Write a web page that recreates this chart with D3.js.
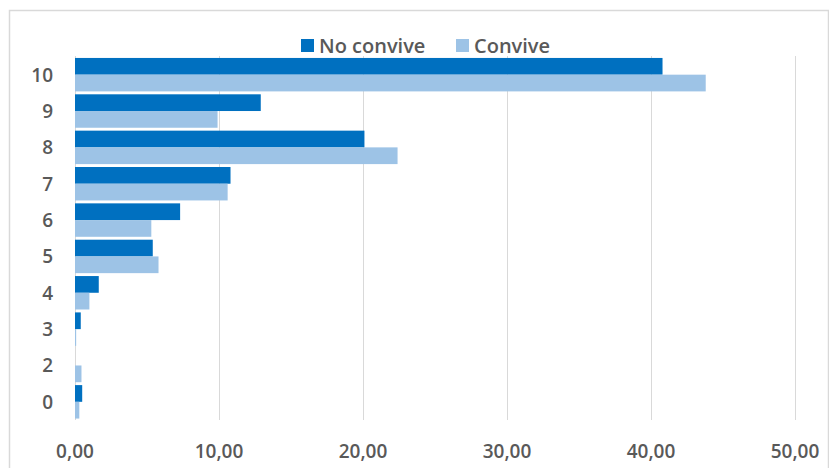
<!DOCTYPE html>
<html><head><meta charset="utf-8">
<script src="https://cdn.jsdelivr.net/npm/d3@7"></script>
<style>body{margin:0;background:#fff}svg{display:block}</style>
</head><body>
<script>
const categories = ["10","9","8","7","6","5","4","3","2","0"];
const seriesNames = ["No convive","Convive"];
const noConvive = [40.8, 12.9, 20.1, 10.8, 7.3, 5.4, 1.65, 0.4, 0, 0.5];
const convive   = [43.8, 9.9, 22.4, 10.6, 5.3, 5.8, 1.0, 0.08, 0.45, 0.3];
const xTicks = [0,10,20,30,40,50];
const colors = ["#0070c0","#9dc3e6"];

const W=829,H=468;
const svg=d3.select("body").append("svg").attr("width",W).attr("height",H);
svg.append("rect").attr("x",9.5).attr("y",10.5).attr("width",819).attr("height",480)
  .attr("fill","#fff").attr("stroke","#d9d9d9").attr("stroke-width",1.5);

const x=d3.scaleLinear().domain([0,50]).range([75,795]);
const y=d3.scaleBand().domain(categories).range([56.5,420]).paddingInner(0.08).paddingOuter(0.04);
const y1=d3.scaleBand().domain(seriesNames).range([0,y.bandwidth()]);

svg.append("g").selectAll("line").data(xTicks).join("line")
  .attr("x1",d=>x(d)+0.5).attr("x2",d=>x(d)+0.5).attr("y1",56).attr("y2",420)
  .attr("stroke","#d9d9d9").attr("stroke-width",1);

const data=categories.map((c,i)=>({c,vals:[noConvive[i],convive[i]]}));
const g=svg.append("g");
data.forEach(d=>{
  d.vals.forEach((v,j)=>{
    g.append("rect").attr("x",x(0)).attr("y",y(d.c)+y1(seriesNames[j]))
     .attr("width",x(v)-x(0)).attr("height",y1.bandwidth()).attr("fill",colors[j]);
  });
});

const font="'Open Sans', Lato, sans-serif";
const fmt=d=>d3.format(".2f")(d).replace(".",",");
svg.append("g").selectAll("text").data(xTicks).join("text")
  .attr("x",d=>x(d)).attr("y",458).attr("text-anchor","middle")
  .attr("font-family",font).attr("font-size",19).attr("font-weight",600).attr("fill","#595959")
  .text(fmt);
svg.append("g").selectAll("text").data(categories).join("text")
  .attr("x",53).attr("y",d=>y(d)+y.bandwidth()/2+7).attr("text-anchor","end")
  .attr("font-family",font).attr("font-size",19).attr("font-weight",600).attr("fill","#595959")
  .text(d=>d);

const leg=[{name:seriesNames[0],x:301,tx:319},{name:seriesNames[1],x:456,tx:474}];
leg.forEach((l,i)=>{
  svg.append("rect").attr("x",l.x).attr("y",39).attr("width",13).attr("height",13).attr("fill",colors[i]);
  svg.append("text").attr("x",l.tx).attr("y",52.5).attr("font-family",font).attr("font-size",20)
    .attr("font-weight",600).attr("fill","#595959").text(l.name);
});
</script>
</body></html>
